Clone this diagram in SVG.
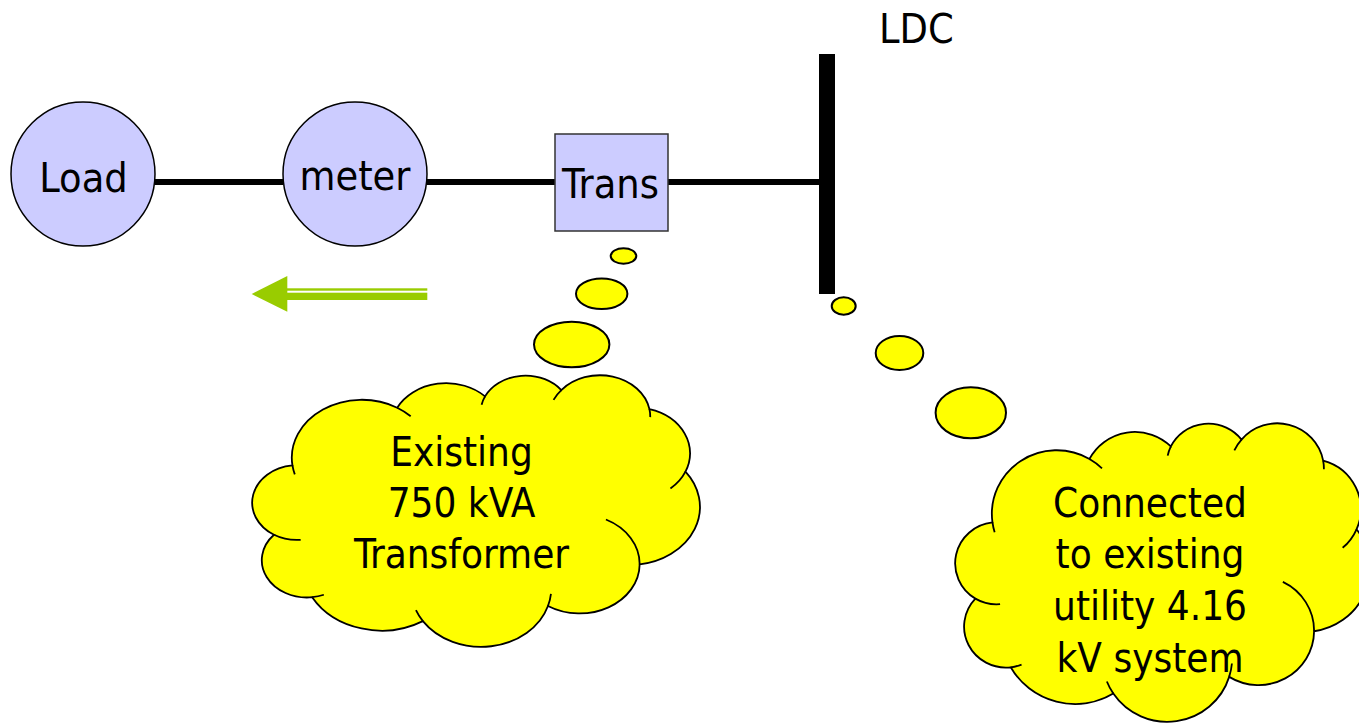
<svg xmlns="http://www.w3.org/2000/svg" xmlns:xlink="http://www.w3.org/1999/xlink" width="1359" height="725" viewBox="0 0 1359 725">
  <style>
    .lbl { font-family: "DejaVu Sans Condensed", "DejaVu Sans", sans-serif; font-stretch: condensed; font-size: 41px; fill: #000; }
    .cloudtxt { font-family: "DejaVu Sans Condensed", "DejaVu Sans", sans-serif; font-stretch: condensed; font-size: 40px; fill: #000; text-anchor: middle; }
    .node { fill: #CCCCFF; stroke: #000; stroke-width: 1.5; }
    .wire { stroke: #000; stroke-width: 6; fill: none; }
    .bubble { fill: #FFFF00; stroke: #000; stroke-width: 2; }
    .cloud-body { fill: #FFFF00; stroke: #000; stroke-width: 1.8; vector-effect: non-scaling-stroke; }
    .cloud-seam { fill: none; stroke: #000; stroke-width: 1.8; vector-effect: non-scaling-stroke; }
  </style>
  <defs>
    <!-- cloud outline in a 43200 x 43200 unit box; scaled per callout -->
    <g id="cloud">
      <path class="cloud-body" d="M3900 14370 A6753 9190 0 0 1 14000 5192 A5333 7267 0 0 1 22470 3390 A4365 5945 0 0 1 29828 2400 A4857 6595 0 0 1 38324 5426 A5333 7273 0 0 1 41798 15354 A6775 9220 0 0 1 37381 30090 A5785 7867 0 0 1 28540 36680 A6752 9215 0 0 1 16478 39090 A7720 10543 0 0 1 5801 35295 A4360 5918 0 0 1 2120 25375 A4345 5945 0 0 1 3900 14370 Z"/>
      <path class="cloud-seam" d="M4693 26177 A4345 5945 0 0 1 2120 25375 M6928 34899 A4360 5918 0 0 1 5801 35295 M16478 39090 A6752 9215 0 0 1 15809 37347 M28827 34751 A6752 9215 0 0 1 28540 36680 M34129 22954 A5785 7867 0 0 1 37381 30090 M41798 15354 A5333 7273 0 0 1 40350 18031 M38324 5426 A4857 6595 0 0 1 38400 6690 M29078 3952 A4857 6595 0 0 1 29828 2400 M22141 4720 A4365 5945 0 0 1 22470 3390 M14000 5192 A6753 9190 0 0 1 15302 6543 M4127 15789 A6753 9190 0 0 1 3900 14370"/>
    </g>
  </defs>

  <rect width="1359" height="725" fill="#FFFFFF"/>

  <!-- connecting wires -->
  <g id="connectors">
    <line class="wire" x1="155" y1="182" x2="283" y2="182"/>
    <line class="wire" x1="427" y1="182" x2="555" y2="182"/>
    <line class="wire" x1="668" y1="182" x2="820" y2="182"/>
  </g>

  <g id="load">
    <circle class="node" cx="83" cy="174" r="72"/>
    <text class="lbl" x="83.5" y="192" text-anchor="middle">Load</text>
  </g>

  <g id="meter">
    <circle class="node" cx="355" cy="174" r="72"/>
    <text class="lbl" x="355" y="190" text-anchor="middle">meter</text>
  </g>

  <g id="trans">
    <rect x="555" y="134" width="113" height="97" fill="#CCCCFF" stroke="#333333" stroke-width="1.5"/>
    <text class="lbl" x="610.5" y="198" text-anchor="middle">Trans</text>
  </g>

  <g id="ldc-bus">
    <rect x="819" y="54" width="16" height="240" fill="#000"/>
    <text class="lbl" x="879" y="43">LDC</text>
  </g>

  <!-- power flow direction -->
  <g id="flow-arrow" fill="#99CC00">
    <polygon points="251.7,294 287.3,276 287.3,311.7"/>
    <rect x="287" y="288.3" width="140.3" height="2.4"/>
    <rect x="287" y="292.7" width="140.3" height="7.3"/>
  </g>

  <g id="callout-transformer">
    <ellipse class="bubble" cx="623.5" cy="256" rx="12.8" ry="7.8"/>
    <ellipse class="bubble" cx="601.7" cy="293.7" rx="25.7" ry="15.3"/>
    <ellipse class="bubble" cx="571.7" cy="344.5" rx="37.7" ry="22.8"/>
    <use xlink:href="#cloud" transform="translate(252 375) scale(0.0103704 0.0062963)"/>
    <text class="cloudtxt" x="461.5" y="466">Existing</text>
    <text class="cloudtxt" x="461.5" y="517">750 kVA</text>
    <text class="cloudtxt" x="461.5" y="568">Transformer</text>
  </g>

  <g id="callout-utility">
    <ellipse class="bubble" cx="843.7" cy="306" rx="12" ry="8.7"/>
    <ellipse class="bubble" cx="899.5" cy="353" rx="23.8" ry="17"/>
    <ellipse class="bubble" cx="970.8" cy="412.8" rx="35.2" ry="25.5"/>
    <use xlink:href="#cloud" transform="translate(955 423) scale(0.0096065 0.0069213)"/>
    <text class="cloudtxt" x="1150" y="517">Connected</text>
    <text class="cloudtxt" x="1150" y="568">to existing</text>
    <text class="cloudtxt" x="1150" y="620">utility 4.16</text>
    <text class="cloudtxt" x="1150" y="672">kV system</text>
  </g>
</svg>
